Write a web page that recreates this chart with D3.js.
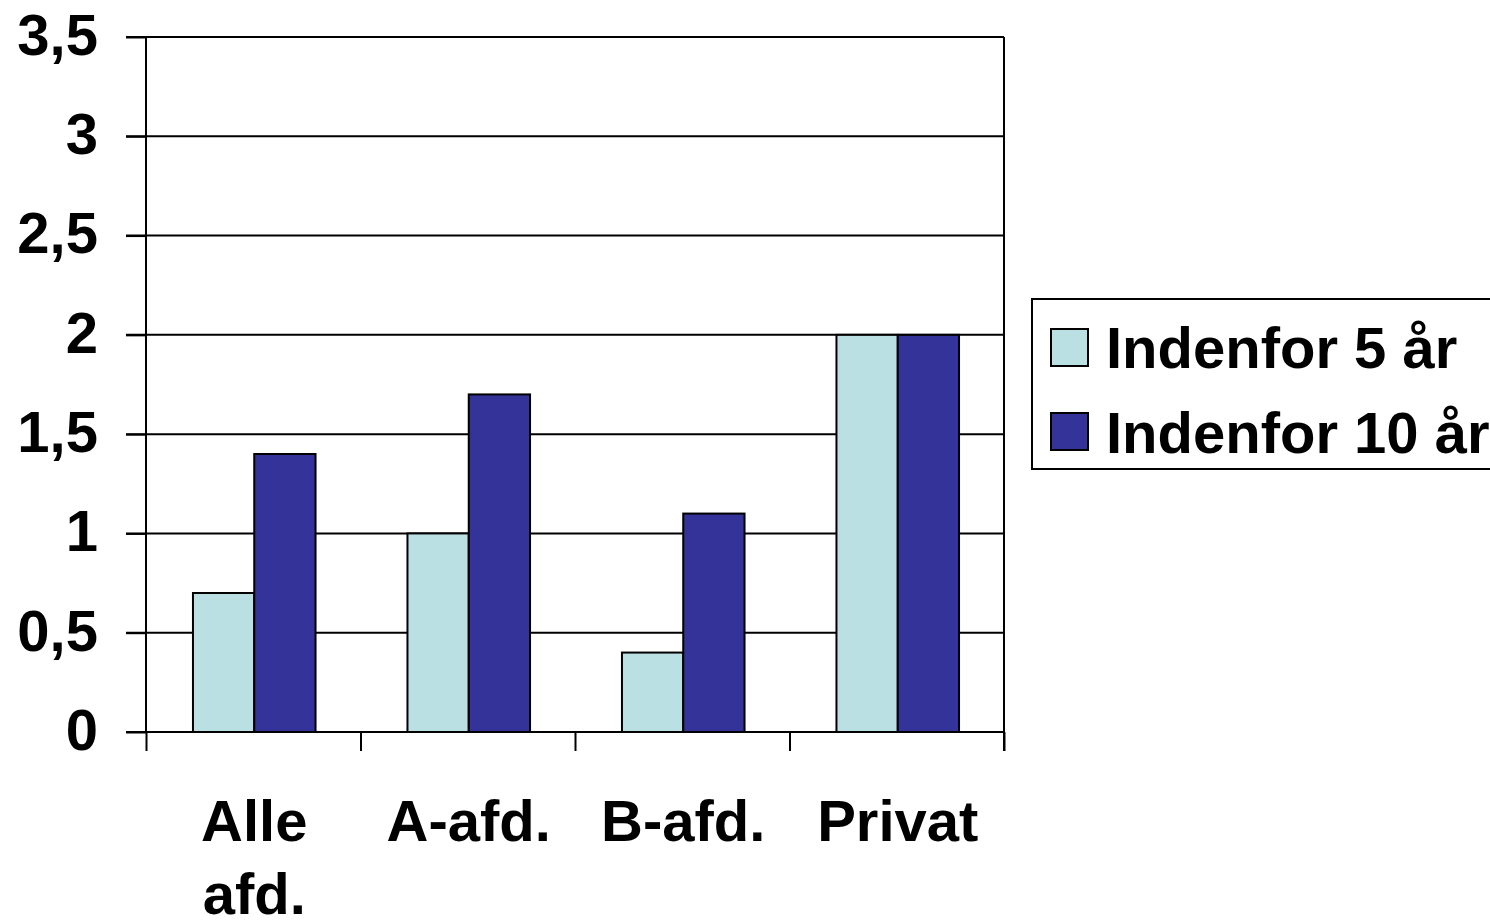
<!DOCTYPE html>
<html><head><meta charset="utf-8">
<script src="https://cdn.jsdelivr.net/npm/d3@7"></script>
<style>body{margin:0;background:#fff}svg{display:block}</style>
</head><body>
<svg id="c" width="1490" height="920"></svg>
<script>
const categories = [["Alle","afd."],["A-afd."],["B-afd."],["Privat"]];
const seriesNames = ["Indenfor 5 år","Indenfor 10 år"];
const series5 = [0.7, 1.0, 0.4, 2.0];
const series10 = [1.4, 1.7, 1.1, 2.0];
const yTicks = [0,0.5,1,1.5,2,2.5,3,3.5];
const yTickLabels = ["0","0,5","1","1,5","2","2,5","3","3,5"];
const colors = ["#BAE0E3","#333399"];

const svg = d3.select("#c");
const L=146, R=1004, T=37, B=732;
const font = "Arial, 'Liberation Sans', Helvetica, sans-serif";
const y = d3.scaleLinear().domain([0,3.5]).range([B,T]);
const x = d3.scaleBand().domain(d3.range(categories.length)).range([L,R]).padding(0);
const sub = d3.scaleBand().domain([0,1]).range([0,x.bandwidth()]).paddingOuter(0.75).paddingInner(0);

// gridlines
svg.append("g").selectAll("line").data(yTicks).join("line")
  .attr("x1",126).attr("x2",R).attr("y1",d=>y(d)).attr("y2",d=>y(d))
  .attr("stroke","#000").attr("stroke-width",2);
// right border
svg.append("line").attr("x1",R).attr("x2",R).attr("y1",T).attr("y2",B+19).attr("stroke","#000").attr("stroke-width",2);

// bars
const data = categories.map((c,i)=>[series5[i],series10[i]]);
const g = svg.append("g");
data.forEach((vals,i)=>{
  vals.forEach((v,j)=>{
    g.append("rect")
      .attr("x",x(i)+sub(j)+1).attr("width",sub.bandwidth())
      .attr("y",y(v)).attr("height",B-y(v))
      .attr("fill",colors[j]).attr("stroke","#000").attr("stroke-width",2);
  });
});

// y axis
const yAxis = d3.axisLeft(y).tickValues(yTicks).tickFormat((d,i)=>yTickLabels[i]).tickSize(20).tickPadding(28);
const ya = svg.append("g").attr("transform",`translate(${L},0)`).call(yAxis);
ya.select(".domain").attr("stroke","#000").attr("stroke-width",2).attr("d",`M-20,${T}H0V${B}H-20`);
ya.selectAll(".tick line").attr("stroke","#000").attr("stroke-width",2);
ya.selectAll(".tick text").attr("font-family",font).attr("font-weight","bold").attr("font-size",58).attr("fill","#000").attr("dy","0.3em");

// x axis
const xt = d3.scaleLinear().domain([0,categories.length]).range([L,R]);
const xAxis = d3.axisBottom(xt).tickValues(d3.range(categories.length+1)).tickFormat("").tickSize(19);
const xa = svg.append("g").attr("transform",`translate(0,${B})`).call(xAxis);
xa.select(".domain").remove();
xa.selectAll(".tick line").attr("stroke","#000").attr("stroke-width",2);
svg.append("line").attr("x1",L).attr("x2",R).attr("y1",B).attr("y2",B).attr("stroke","#000").attr("stroke-width",2);

// category labels
categories.forEach((lines,i)=>{
  const cx = x(i)+x.bandwidth()/2+1;
  const t = svg.append("text").attr("x",cx).attr("y",841)
    .attr("text-anchor","middle").attr("font-family",font).attr("font-weight","bold").attr("font-size",58);
  lines.forEach((s,k)=>t.append("tspan").attr("x",cx).attr("dy",k===0?0:73).text(s));
});

// legend
const lg = svg.append("g");
lg.append("rect").attr("x",1032).attr("y",299).attr("width",500).attr("height",170)
  .attr("fill","#fff").attr("stroke","#000").attr("stroke-width",2);
seriesNames.forEach((n,i)=>{
  lg.append("rect").attr("x",1051).attr("y",329+84*i).attr("width",37).attr("height",37)
    .attr("fill",colors[i]).attr("stroke","#000").attr("stroke-width",2);
  lg.append("text").attr("x",1106).attr("y",368+85*i).attr("font-family",font).attr("font-weight","bold")
    .attr("font-size",58).attr("fill","#000").text(n);
});
</script>
</body></html>
